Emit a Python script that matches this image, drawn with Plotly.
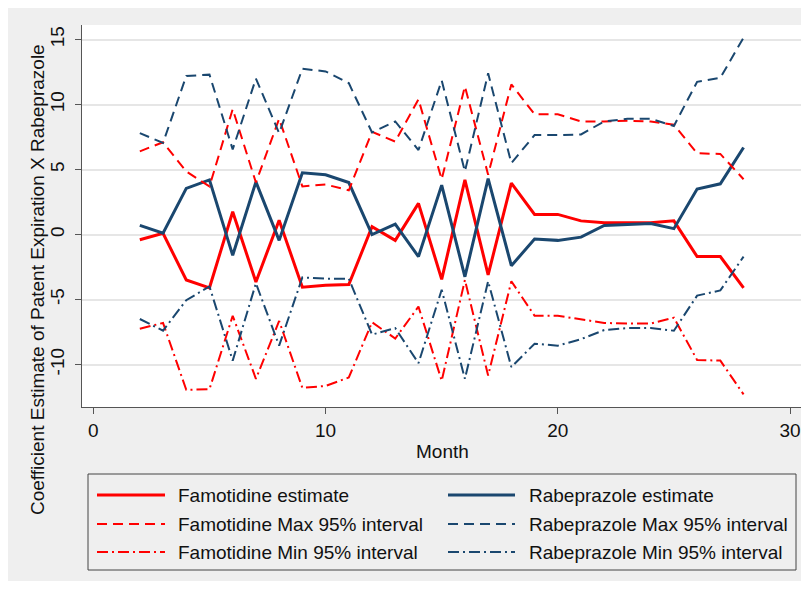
import plotly.graph_objects as go

months = list(range(2, 29))

famotidine_est = [-0.4, 0.1, -3.5, -4.1, 1.75, -3.65, 1.1, -4.05, -3.9, -3.85, 0.6, -0.45,
                  2.4, -3.45, 4.2, -3.1, 3.95, 1.55, 1.55, 1.05, 0.9, 0.9, 0.9, 1.05, -1.7, -1.7, -4.1]
famotidine_max = [6.4, 7.1, 4.85, 3.7, 9.65, 4.0, 8.9, 3.7, 3.85, 3.4, 7.9, 7.15,
                  10.4, 4.25, 11.4, 4.6, 11.55, 9.25, 9.25, 8.7, 8.7, 8.75, 8.7, 8.45, 6.25, 6.2, 4.25]
famotidine_min = [-7.25, -6.8, -11.95, -11.9, -6.25, -11.1, -6.65, -11.8, -11.65, -11.0, -6.75, -8.0,
                  -5.55, -11.25, -3.5, -10.85, -3.6, -6.25, -6.25, -6.5, -6.8, -6.85, -6.85, -6.4, -9.65, -9.7, -12.3]

rabeprazole_est = [0.7, 0.1, 3.55, 4.2, -1.6, 4.05, -0.45, 4.75, 4.6, 4.0, 0.0, 0.8,
                   -1.7, 3.8, -3.25, 4.3, -2.4, -0.35, -0.45, -0.2, 0.7, 0.8, 0.85, 0.45, 3.5, 3.9, 6.7]
rabeprazole_max = [7.8, 7.05, 12.2, 12.3, 6.55, 12.0, 7.8, 12.75, 12.55, 11.65, 7.85, 8.7,
                   6.5, 11.85, 4.85, 12.4, 5.5, 7.65, 7.65, 7.7, 8.7, 8.9, 8.9, 8.35, 11.75, 12.05, 15.15]
rabeprazole_min = [-6.5, -7.4, -5.05, -4.0, -9.7, -3.75, -8.55, -3.3, -3.4, -3.4, -7.7, -7.2,
                   -9.9, -4.25, -11.1, -3.6, -10.2, -8.4, -8.55, -8.05, -7.35, -7.2, -7.2, -7.4, -4.7, -4.3, -1.7]

series_names = [
    "Famotidine estimate", "Rabeprazole estimate",
    "Famotidine Max 95% interval", "Rabeprazole Max 95% interval",
    "Famotidine Min 95% interval", "Rabeprazole Min 95% interval",
]
x_ticks = [0, 10, 20, 30]
y_ticks = [-10, -5, 0, 5, 10, 15]

RED = "#ff0000"
NAVY = "#1a476f"
DASH = "10px,6px"
DASHDOT = "11px,4px,2px,4px"

series = [
    (series_names[0], famotidine_est, RED, "solid", 3),
    (series_names[1], rabeprazole_est, NAVY, "solid", 3),
    (series_names[2], famotidine_max, RED, DASH, 2),
    (series_names[3], rabeprazole_max, NAVY, DASH, 2),
    (series_names[4], famotidine_min, RED, DASHDOT, 2),
    (series_names[5], rabeprazole_min, NAVY, DASHDOT, 2),
]

# page offset (body margin) and figure size
OX, OY = 8, 8
W, H = 795, 573
# plot area in page pixels
L, R, T, B = 82, 803, 25, 407


def px(xp):
    return (xp - L) / (R - L)


def py(yp):
    return (B - yp) / (B - T)


fig = go.Figure()
for name, vals, col, dash, w in series:
    fig.add_trace(go.Scatter(x=months, y=vals, mode="lines", name=name,
                             line=dict(color=col, dash=dash, width=w),
                             showlegend=False))

shapes = []
annotations = []
BG = "#efefef"

# legend box
shapes.append(dict(type="rect", xref="paper", yref="paper",
                   x0=px(88), x1=px(796), y0=py(474), y1=py(570),
                   fillcolor=BG, line=dict(color="#444444", width=1)))
row_y = [495, 524, 552]
col_line = [(97, 165, 176), (448, 515, 527)]
for i, (name, vals, col, dash, w) in enumerate(series):
    r, c = divmod(i, 2)
    lx0, lx1, tx = col_line[c]
    yy = row_y[r]
    shapes.append(dict(type="line", xref="paper", yref="paper",
                       x0=px(lx0), x1=px(lx1), y0=py(yy), y1=py(yy),
                       line=dict(color=col, dash=dash, width=w)))
    annotations.append(dict(xref="paper", yref="paper", x=px(tx), y=py(yy),
                            text=name, showarrow=False, xanchor="left", yanchor="middle",
                            font=dict(size=19, color="#111111")))

annotations.append(dict(xref="paper", yref="paper", x=px(37), y=py(280),
                        text="Coefficient Estimate of Patent Expiration X Rabeprazole",
                        textangle=-90, showarrow=False, xanchor="center", yanchor="middle",
                        font=dict(size=19, color="#111111")))
annotations.append(dict(xref="paper", yref="paper", x=px(442), y=py(451),
                        text="Month", showarrow=False, xanchor="center", yanchor="middle",
                        font=dict(size=19, color="#111111")))

fig.update_layout(
    width=W, height=H,
    margin=dict(l=L - OX, r=W - (R - OX), t=T - OY, b=H - (B - OY)),
    paper_bgcolor=BG, plot_bgcolor="white",
    font=dict(family="Liberation Sans, Arial, sans-serif", size=19, color="#111111"),
    shapes=shapes, annotations=annotations,
    showlegend=False,
)
fig.update_xaxes(range=[-0.49, 30.56], tickvals=x_ticks, ticktext=[str(v) for v in x_ticks],
                 showgrid=False, zeroline=False, showline=True, linecolor="#555555", linewidth=1,
                 ticks="outside", ticklen=6, tickcolor="#555555", tickfont=dict(size=19))
fig.update_yaxes(range=[-13.27, 16.12], tickvals=y_ticks, ticktext=[str(v) for v in y_ticks],
                 showgrid=True, gridcolor="#e6e6e6", gridwidth=1.5, zeroline=False,
                 showline=True, linecolor="#555555", linewidth=1,
                 ticks="outside", ticklen=6, tickcolor="#555555", tickangle=-90,
                 ticklabelstandoff=3, tickfont=dict(size=19))

fig.write_html("out.html")
